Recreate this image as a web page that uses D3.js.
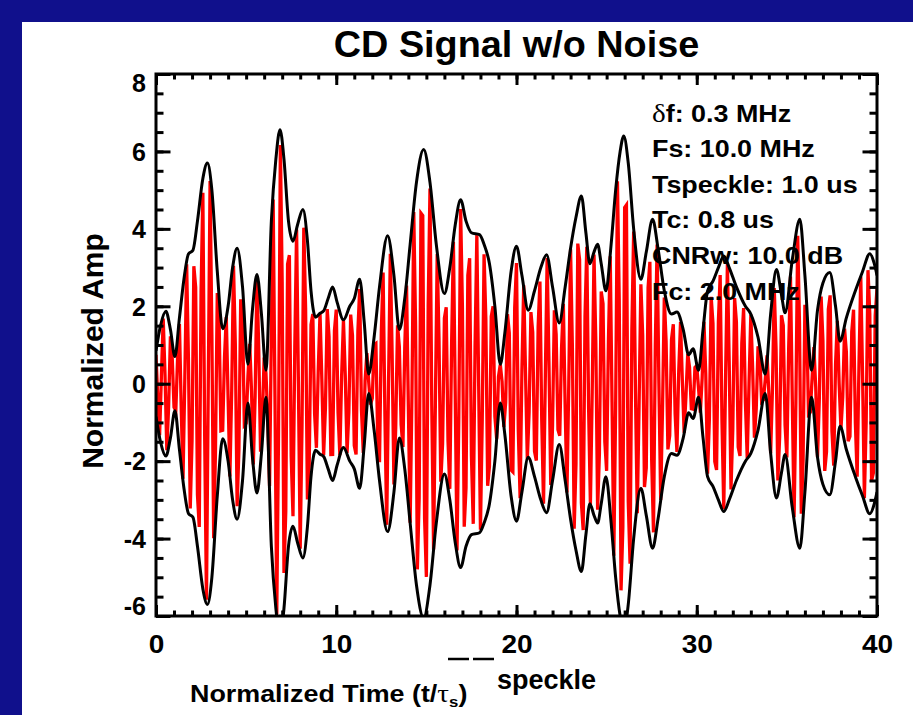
<!DOCTYPE html>
<html>
<head>
<meta charset="utf-8">
<script src="https://cdn.jsdelivr.net/npm/d3@7"></script>
<style>
  html, body { margin: 0; padding: 0; background: #10108c; overflow: hidden; }
  svg { display: block; }
  text { font-family: "Liberation Sans", Arial, sans-serif; font-weight: bold; fill: #000; }
</style>
</head>
<body>
<div id="chart"></div>
<script>
// envelope of the CD signal (time in speckle units)
const envelopeTime = [
  0.0, 0.25, 0.55, 0.8, 1.05, 1.3, 1.55, 1.8, 2.05, 2.3, 2.6, 2.85, 3.1, 3.4, 3.7,
  4.0, 4.25, 4.5, 4.8, 5.1, 5.35, 5.6, 5.85, 6.1, 6.4, 6.65, 6.88, 7.1, 7.35, 7.6,
  7.85, 8.15, 8.4, 8.6, 8.85, 9.1, 9.3, 9.55, 9.8, 10.05, 10.4, 10.75, 11.0, 11.3,
  11.55, 11.8, 12.1, 12.4, 12.85, 13.2, 13.5, 13.8, 14.1, 14.45, 14.85, 15.2, 15.55,
  16.0, 16.3, 16.6, 16.9, 17.2, 17.5, 17.95, 18.2, 18.5, 18.8, 19.1, 19.35, 19.7,
  20.0, 20.3, 20.65, 21.0, 21.35, 21.67, 22.0, 22.37, 22.7, 23.0, 23.3, 23.6, 23.85,
  24.07, 24.3, 24.5, 24.7, 24.96, 25.25, 25.5, 25.75, 25.95, 26.2, 26.5, 26.9, 27.2,
  27.55, 27.85, 28.2, 28.6, 28.9, 29.25, 29.55, 29.8, 30.1, 30.35, 30.6, 30.9, 31.2,
  31.5, 31.8, 32.2, 32.7, 33.0, 33.4, 33.8, 34.1, 34.42, 34.7, 34.9, 35.3, 35.72,
  36.0, 36.37, 36.7, 37.0, 37.38, 37.7, 37.95, 38.3, 38.8, 39.2, 39.6, 39.85, 40.0
];
const envelopeAmp = [
  0.85, 1.5, 1.87, 1.4, 0.7, 1.7, 2.7, 3.35, 3.45, 4.2, 5.3, 5.7, 5.0, 2.9, 1.42,
  2.0, 3.0, 3.5, 2.5, 0.5, 1.9, 2.82, 1.8, 0.35, 4.2, 5.8, 6.56, 5.8, 4.2, 3.68,
  4.1, 4.5, 3.7, 2.4, 1.72, 1.82, 1.88, 2.2, 2.5, 2.1, 1.65, 2.0, 2.2, 2.7,
  1.6, 0.25, 1.2, 2.5, 3.82, 2.8, 1.4, 2.2, 3.6, 5.2, 6.05, 5.2, 3.6,
  2.33, 3.0, 4.1, 4.75, 4.2, 3.9, 3.85, 3.6, 3.1, 2.0, 0.5, 1.3, 2.9,
  3.55, 2.8, 1.9, 2.4, 3.0, 3.33, 2.5, 1.57, 2.5, 3.5, 4.3, 4.85, 3.9,
  3.1, 3.4, 3.6, 3.1, 2.4, 3.6, 5.0, 6.0, 6.4, 5.7, 4.0, 2.7, 3.4,
  4.25, 3.5, 2.4, 1.8, 1.85, 1.4, 0.75, 0.9, 0.35, 1.4, 2.4, 2.65, 3.0,
  3.3, 3.0, 2.5, 2.0, 1.8, 1.2, 0.25, 1.8, 2.95, 2.3, 1.83, 3.2, 4.25,
  2.8, 0.35, 1.9, 2.6, 2.87, 2.0, 1.1, 1.7, 2.4, 2.9, 3.36, 3.1, 2.8
];

const xTickValues = [0, 10, 20, 30, 40];
const yTickValues = [-6, -4, -2, 0, 2, 4, 6, 8];

const infoLines = [
  ["δ", "f: 0.3 MHz"],
  ["", "Fs: 10.0 MHz"],
  ["", "Tspeckle: 1.0 us"],
  ["", "Tc: 0.8 us"],
  ["", "CNRw: 10.0 dB"],
  ["", "Fc: 2.0 MHz"]
];

// sampling parameters quoted in the chart (MHz, us)
const sampleRate = 10;   // Fs
const carrierFreq = 2.0; // Fc
const freqOffset = 0.3;  // delta f
const carrierPhase = 0.5;

const width = 913, height = 715;
const plot = { left: 156, right: 877, top: 74, bottom: 616 };
const stretch = 1.12;

const svg = d3
  .select("#chart")
  .append("svg")
  .attr("width", width)
  .attr("height", height);

// blue slide background and white card
svg.append("rect").attr("width", width).attr("height", height).attr("fill", "#10108c");
svg.append("rect")
  .attr("x", 22).attr("y", 22)
  .attr("width", width - 22).attr("height", height - 22)
  .attr("fill", "#ffffff");

const x = d3.scaleLinear().domain([0, 40]).range([plot.left, plot.right]);
const y = d3.scaleLinear().domain([-6, 8]).range([plot.bottom, plot.top]);

svg.append("clipPath").attr("id", "plotClip")
  .append("rect")
  .attr("x", plot.left).attr("y", plot.top)
  .attr("width", plot.right - plot.left).attr("height", plot.bottom - plot.top);

// sampled signal: envelope times the shifted carrier
const ampAt = d3.scaleLinear().domain(envelopeTime).range(envelopeAmp).clamp(true);
const samples = d3.range(0, 40 * sampleRate + 1).map((n) => {
  const t = n / sampleRate;
  return [t, ampAt(t) * Math.cos(2 * Math.PI * (carrierFreq + freqOffset) * t + carrierPhase)];
});

const traces = svg.append("g").attr("clip-path", "url(#plotClip)");

traces.append("path")
  .datum(samples)
  .attr("fill", "none")
  .attr("stroke", "#ff0000")
  .attr("stroke-width", 3.3)
  .attr("d", d3.line().x((d) => x(d[0])).y((d) => y(d[1])));

const envTop = envelopeTime.map((t, i) => [t, envelopeAmp[i]]);
const envBottom = envelopeTime.map((t, i) => [t, -envelopeAmp[i]]);
const envLine = d3.line().x((d) => x(d[0])).y((d) => y(d[1])).curve(d3.curveMonotoneX);

[envTop, envBottom].forEach((env) => {
  traces.append("path")
    .datum(env)
    .attr("fill", "none")
    .attr("stroke", "#000")
    .attr("stroke-width", 3)
    .attr("stroke-linejoin", "round")
    .attr("d", envLine);
});

// axes: major + minor ticks on all four sides
function addAxis(gen, tx, ty) {
  const g = svg.append("g")
    .attr("transform", `translate(${tx},${ty})`)
    .call(gen);
  g.select(".domain").remove();
  g.selectAll(".tick line").attr("stroke", "#000").attr("stroke-width", 3);
  return g;
}

const xMinor = d3.range(0, 41, 1);
const yMinor = d3.range(-6, 8.01, 0.5);
const plainNum = (d) => (d < 0 ? "-" + Math.abs(d) : String(d));

addAxis(d3.axisBottom(x).tickValues(xMinor).tickSizeInner(-5.5).tickSizeOuter(0).tickFormat(""), 0, plot.bottom);
addAxis(d3.axisTop(x).tickValues(xMinor).tickSizeInner(-5.5).tickSizeOuter(0).tickFormat(""), 0, plot.top);
addAxis(d3.axisLeft(y).tickValues(yMinor).tickSizeInner(-7.5).tickSizeOuter(0).tickFormat(""), plot.left, 0);
addAxis(d3.axisRight(y).tickValues(yMinor).tickSizeInner(-7.5).tickSizeOuter(0).tickFormat(""), plot.right, 0);

const xAxis = addAxis(
  d3.axisBottom(x).tickValues(xTickValues).tickSizeInner(-11).tickSizeOuter(0).tickPadding(19).tickFormat(plainNum),
  0, plot.bottom
);
addAxis(d3.axisTop(x).tickValues(xTickValues).tickSizeInner(-11).tickSizeOuter(0).tickFormat(""), 0, plot.top);
const yAxis = addAxis(
  d3.axisLeft(y).tickValues(yTickValues).tickSizeInner(-14.5).tickSizeOuter(0).tickPadding(10).tickFormat(plainNum),
  plot.left, 0
);
addAxis(d3.axisRight(y).tickValues(yTickValues).tickSizeInner(-14.5).tickSizeOuter(0).tickFormat(""), plot.right, 0);

xAxis.selectAll("text")
  .attr("font-size", 25)
  .attr("font-family", "Liberation Sans, Arial, sans-serif")
  .attr("font-weight", "bold")
  .attr("fill", "#000")
  .attr("transform", `scale(${stretch},1)`);

yAxis.selectAll("text")
  .attr("font-size", 25)
  .attr("font-family", "Liberation Sans, Arial, sans-serif")
  .attr("font-weight", "bold")
  .attr("fill", "#000")
  .attr("dy", (d) => (d === 8 ? "0.7em" : d === -6 ? "-0.05em" : "0.35em"));

svg.append("rect")
  .attr("x", plot.left).attr("y", plot.top)
  .attr("width", plot.right - plot.left).attr("height", plot.bottom - plot.top)
  .attr("fill", "none")
  .attr("stroke", "#000")
  .attr("stroke-width", 3);

// title
svg.append("text")
  .attr("transform", `translate(${(plot.left + plot.right) / 2},57) scale(1.05,1)`)
  .attr("text-anchor", "middle")
  .attr("font-size", 36)
  .text("CD Signal w/o Noise");

// y label
svg.append("text")
  .attr("transform", `translate(103,351) rotate(-90)`)
  .attr("text-anchor", "middle")
  .attr("font-size", 30)
  .text("Normalized Amp");

// x label, with the stray overbars and raised subscript the original renders
const xLab = svg.append("text")
  .attr("transform", `translate(190,702) scale(1.12,1)`)
  .attr("font-size", 24);
xLab.append("tspan").text("Normalized Time (t/");
xLab.append("tspan").attr("font-family", "Liberation Serif, serif").attr("font-weight", "normal").attr("font-size", 26).text("τ");
xLab.append("tspan").attr("font-size", 15).attr("dy", 5).text("s");
xLab.append("tspan").attr("dy", -5).text(")");

// the two overbars
[[448, 469], [473, 494]].forEach(([a, b]) => {
  svg.append("line")
    .attr("x1", a).attr("x2", b)
    .attr("y1", 659).attr("y2", 659)
    .attr("stroke", "#000")
    .attr("stroke-width", 2.5);
});

svg.append("text")
  .attr("transform", "translate(497,689)")
  .attr("font-size", 27)
  .text("speckle");

// parameter annotations
const info = svg.append("g").attr("transform", "translate(652,0)");
infoLines.forEach((line, i) => {
  const t = info.append("text")
    .attr("transform", `translate(0,${121.5 + i * 35.6}) scale(${stretch},1)`)
    .attr("font-size", 24);
  if (line[0]) {
    t.append("tspan")
      .attr("font-family", "Liberation Serif, serif")
      .attr("font-weight", "normal")
      .attr("font-size", 26)
      .text(line[0]);
  }
  t.append("tspan").text(line[1]);
});
</script>
</body>
</html>
